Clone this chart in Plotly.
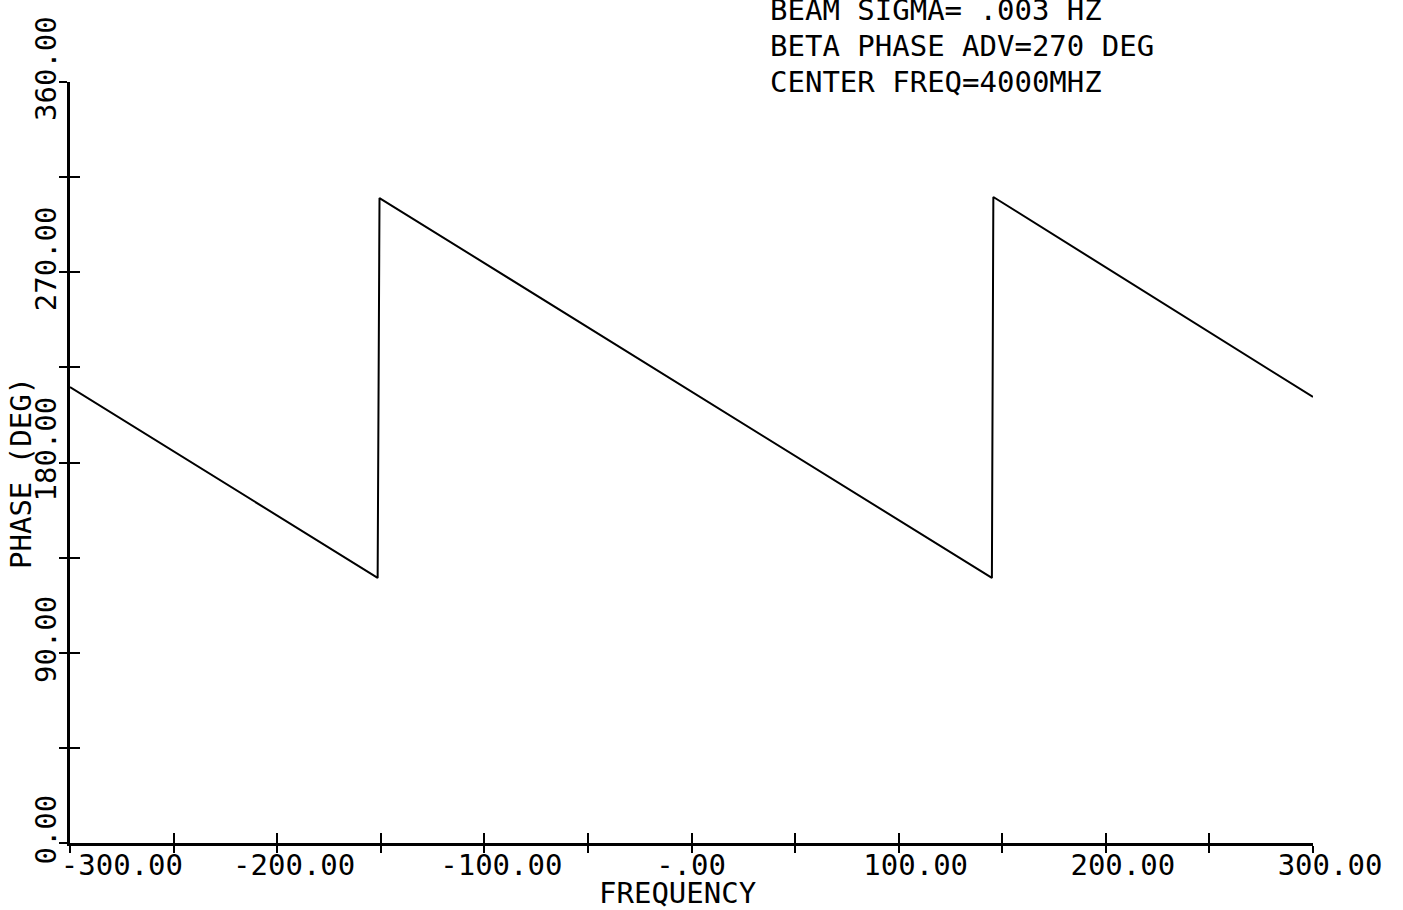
import plotly.graph_objects as go

# Data
freq = [-300.0, -151.5, -150.6, 145.0, 145.7, 300.0]
phase = [215.7, 125.4, 305.1, 125.4, 305.6, 211.0]

x_ticks = [-300, -250, -200, -150, -100, -50, 0, 50, 100, 150, 200, 250, 300]
x_ticktext = ["\u00a0\u00a0\u00a0\u00a0-300.00", "", "-200.00", "", "-100.00", "",
              "-.00\u00a0\u00a0", "", "100.00", "", "200.00", "", "300.00"]
y_ticks = [0, 45, 90, 135, 180, 225, 270, 315, 360]
y_ticktext = ["0.00", "", "90.00", "", "180.00", "", "270.00", "", "360.00"]

info_lines = ["BEAM SIGMA= .003 HZ", "BETA PHASE ADV=270 DEG", "CENTER FREQ=4000MHZ"]
x_title = "FREQUENCY"
y_title = "PHASE (DEG)"

FONT = "DejaVu Sans Mono"
fig = go.Figure()
fig.add_trace(go.Scatter(x=freq, y=phase, mode="lines",
                         line=dict(color="black", width=2), showlegend=False,
                         hoverinfo="skip"))
# dummy trace to activate the overlay axes (inner half of crossing ticks)
fig.add_trace(go.Scatter(x=[None], y=[None], xaxis="x2", yaxis="y2",
                         mode="lines", showlegend=False, hoverinfo="skip"))

fig.update_layout(
    width=1403, height=910,
    margin=dict(l=70, r=90, t=82, b=67),
    paper_bgcolor="white", plot_bgcolor="white",
    font=dict(family=FONT, size=29, color="black"),
    xaxis=dict(range=[-300, 300], showgrid=False, zeroline=False,
               showline=True, linecolor="black", linewidth=2.5,
               ticks="outside", ticklen=7, tickwidth=2, tickcolor="black",
               tickmode="array", tickvals=x_ticks, ticktext=x_ticktext,
               ticklabelshift=17, ticklabelstandoff=-13,
               ticklabeloverflow="allow",
               tickfont=dict(family=FONT, size=29), automargin=False),
    yaxis=dict(range=[0, 360], showgrid=False, zeroline=False,
               showline=True, linecolor="black", linewidth=2.5,
               ticks="outside", ticklen=8, tickwidth=2, tickcolor="black",
               tickmode="array", tickvals=y_ticks, ticktext=y_ticktext,
               tickangle=-90, ticklabelshift=-9, ticklabelstandoff=-8,
               ticklabeloverflow="allow",
               tickfont=dict(family=FONT, size=29), automargin=False),
    xaxis2=dict(range=[-300, 300], overlaying="x", anchor="y2", side="bottom",
                showgrid=False, zeroline=False, showline=False,
                ticks="inside", ticklen=10, tickwidth=2, tickcolor="black",
                tickmode="array", tickvals=x_ticks, showticklabels=False),
    yaxis2=dict(range=[0, 360], overlaying="y", anchor="x2", side="left",
                showgrid=False, zeroline=False, showline=False,
                ticks="inside", ticklen=10, tickwidth=2, tickcolor="black",
                tickmode="array", tickvals=y_ticks, showticklabels=False),
)

# info text block (top right)
for i, txt in enumerate(info_lines):
    fig.add_annotation(text=txt, xref="paper", yref="paper",
                       x=(768 - 70) / 1243, y=1 + (82 - (10 + 36 * i)) / 761,
                       xanchor="left", yanchor="middle", showarrow=False,
                       font=dict(family=FONT, size=29, color="black"))

# axis titles
fig.add_annotation(text=x_title, xref="paper", yref="paper",
                   x=(677 - 70) / 1243, y=-(893 - 843) / 761,
                   xanchor="center", yanchor="middle", showarrow=False,
                   font=dict(family=FONT, size=29, color="black"))
fig.add_annotation(text=y_title, xref="paper", yref="paper",
                   x=-(70 - 21) / 1243, y=(843 - 473) / 761, textangle=-90,
                   xanchor="center", yanchor="middle", showarrow=False,
                   font=dict(family=FONT, size=29, color="black"))

fig.write_html("out.html")
